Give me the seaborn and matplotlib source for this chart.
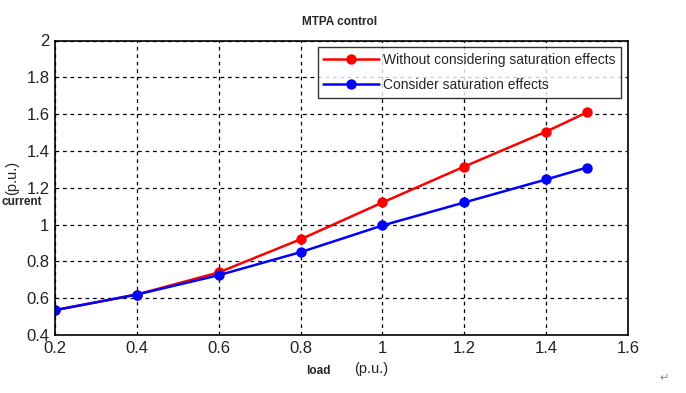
import numpy as np
import pandas as pd
import matplotlib
matplotlib.use("Agg")
import matplotlib.pyplot as plt
import seaborn as sns

load = [0.2, 0.4, 0.6, 0.8, 1.0, 1.2, 1.4, 1.5]
current_no_sat = [0.535, 0.62, 0.74, 0.92, 1.12, 1.315, 1.505, 1.61]
current_sat = [0.535, 0.62, 0.725, 0.85, 0.995, 1.12, 1.245, 1.31]
series_names = ["Without considering saturation effects", "Consider saturation effects"]
x_ticks = [0.2, 0.4, 0.6, 0.8, 1.0, 1.2, 1.4, 1.6]
y_ticks = [0.4, 0.6, 0.8, 1.0, 1.2, 1.4, 1.6, 1.8, 2.0]

df = pd.DataFrame({
    "load": load * 2,
    "current": current_no_sat + current_sat,
    "case": [series_names[0]] * len(load) + [series_names[1]] * len(load),
})

sns.set_style("white")
plt.rcParams['font.family'] = ['Liberation Sans', 'DejaVu Sans']

fig = plt.figure(figsize=(6.86, 3.93), dpi=100)
ax = fig.add_axes([55 / 686, 1 - 335 / 393, (628 - 55) / 686, (335 - 40.5) / 393])

sns.lineplot(data=df, x="load", y="current", hue="case", hue_order=series_names,
             palette=["#ff0000", "#0000ff"], marker="o", markersize=7.5,
             markeredgewidth=0, linewidth=1.8, ax=ax)

ax.set_xlim(0.2, 1.6)
ax.set_ylim(0.4, 2.0)
ax.set_xticks(x_ticks)
ax.set_yticks(y_ticks)
ax.set_xticklabels(["0.2", "0.4", "0.6", "0.8", "1", "1.2", "1.4", "1.6"])
ax.set_yticklabels(["0.4", "0.6", "0.8", "1", "1.2", "1.4", "1.6", "1.8", "2"])
ax.tick_params(direction="in", length=4, labelsize=12, colors="#222222", pad=4)
ax.grid(True, color="black", linestyle=(0, (3, 3)), linewidth=0.9)
for s in ax.spines.values():
    s.set_color("black")
    s.set_linewidth(1.2)
ax.set_xlabel("")
ax.set_ylabel("")

leg = ax.legend(loc="upper right", fontsize=10, frameon=True, fancybox=False,
                edgecolor="black", borderaxespad=0.5, handlelength=4.0,
                labelspacing=0.8, handletextpad=0.3)
leg.get_frame().set_linewidth(1.0)

fig.text(340 / 686, 1 - 22 / 393, "MTPA control", ha="center", va="center",
         fontsize=8.5, fontweight="bold")
fig.text(2 / 686, 1 - 202 / 393, "current", ha="left", va="center",
         fontsize=8.5, fontweight="bold")
fig.text(12 / 686, 1 - 178 / 393, "(p.u.)", ha="center", va="center", fontsize=10.5, rotation=90)
fig.text(318 / 686, 1 - 371 / 393, "load", ha="center", va="center",
         fontsize=8.5, fontweight="bold")
fig.text(371 / 686, 1 - 369 / 393, "(p.u.)", ha="center", va="center", fontsize=10.5)
fig.text(664 / 686, 1 - 378 / 393, "\u21b5", ha="center", va="center", fontsize=8, color="#888888")

fig.savefig("out.png", dpi=100)
